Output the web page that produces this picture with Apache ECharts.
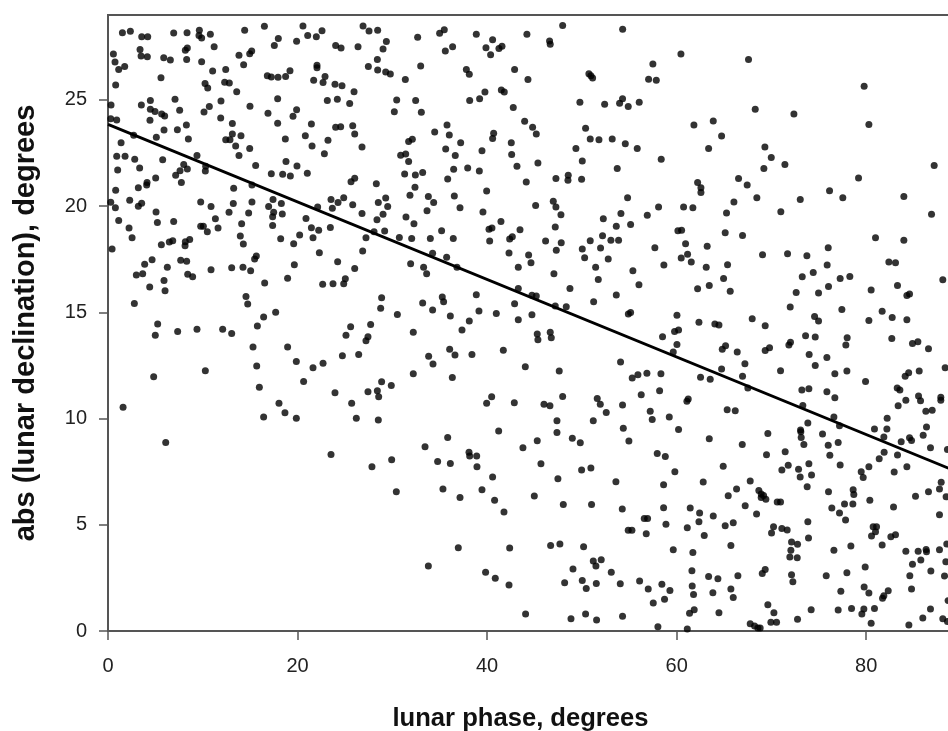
<!DOCTYPE html>
<html>
<head>
<meta charset="utf-8">
<title>Lunar phase vs declination</title>
<script src="https://cdn.jsdelivr.net/npm/echarts@6/dist/echarts.min.js"></script>
<style>
  html, body { margin: 0; padding: 0; background: #fff; overflow: hidden; }
  #chart { width: 948px; height: 731px; }
</style>
</head>
<body>
<div id="chart"></div>
<script>
const xTicks = [0, 20, 40, 60, 80];
const yTicks = [0, 5, 10, 15, 20, 25];
const xTitle = "lunar phase, degrees";
const yTitle = "abs (lunar declination), degrees";

const trendX = [0, 90];
const trendY = [23.85, 7.42];

// [lunar phase, abs declination]
const observations = [
[1.52,28.17],[2.36,28.23],[3.56,27.98],[4.19,27.98],[6.93,28.15],[8.34,28.17],[9.64,28.28],[9.6,28.04],[9.88,27.92],[10.8,28.09],
[11.2,27.5],[14.42,28.28],[16.5,28.47],[20.57,28.48],[21.07,28.04],[17.97,27.89],[17.55,27.56],[19.9,27.76],[0.57,27.16],[0.74,26.79],
[1.13,26.44],[1.76,26.58],[0.81,25.71],[3.38,27.38],[3.49,27.07],[4.15,27.04],[5.88,26.99],[6.58,26.88],[8.37,27.45],[8.16,27.34],
[8.3,26.91],[9.88,26.8],[11.04,26.36],[12.42,26.44],[13.82,27.1],[15.16,27.3],[14.95,27.18],[14.31,26.66],[5.59,26.04],[10.24,25.78],
[10.52,25.56],[12.31,25.83],[12.8,25.8],[13.58,25.39],[16.81,26.14],[17.23,26.08],[17.94,26.07],[18.74,26.1],[19.2,26.38],[17.9,25.06],
[0.32,24.76],[3.52,24.76],[4.47,24.98],[7.07,25.03],[4.47,24.56],[4.96,24.46],[5.66,24.34],[5.98,24.25],[7.56,24.51],[11.92,24.95],
[10.69,24.69],[10.13,24.43],[14.98,24.7],[16.88,24.37],[19.9,24.54],[19.52,24.23],[0.29,24.12],[0.92,24.06],[4.43,24.04],[11.89,24.15],
[17.9,23.9],[8.27,23.82],[13.12,23.89],[7.32,23.6],[5.91,23.59],[2.71,23.34],[5.1,23.24],[8.48,23.16],[13.12,23.4],[14.03,23.32],
[12.42,23.13],[12.87,23.13],[18.71,23.16],[20.82,23.32],[1.38,22.98],[13.47,22.83],[14.95,22.72],[0.92,22.35],[1.8,22.35],[2.82,22.21],
[5.77,22.18],[9.39,22.38],[13.82,22.38],[1.02,21.7],[3.34,21.8],[18.78,22.1],[19.94,21.89],[7.99,21.96],[15.58,21.91],[8.37,21.75],
[7.6,21.67],[7.14,21.45],[10.31,21.88],[10.27,21.66],[17.23,21.53],[18.43,21.5],[19.24,21.42],[21.03,21.55],[5.03,21.33],[4.12,21.12],
[4.08,21.0],[7.74,21.11],[3.2,20.87],[15.19,21.0],[13.26,20.84],[0.81,20.75],[2.29,20.28],[0.29,20.18],[0.78,19.92],[3.55,20.14],
[3.2,20.0],[9.78,20.2],[10.87,19.98],[13.22,20.12],[15.19,20.2],[17.41,20.32],[16.95,19.98],[18.29,20.12],[12.77,19.71],[14.84,19.68],
[5.07,19.73],[17.48,19.71],[18.39,19.63],
[22.58,28.26],[21.98,27.98],[26.91,28.48],[27.54,28.25],[28.45,28.28],[29.37,27.75],[29.02,27.4],[32.67,27.95],[34.99,28.14],[35.48,28.31],
[38.86,28.09],[44.2,28.09],[40.58,27.84],[39.88,27.46],[41.25,27.42],[41.57,27.53],[40.37,27.13],[36.36,27.5],[35.59,27.31],[24.02,27.56],
[24.59,27.45],[26.38,27.5],[28.42,26.91],[27.47,26.58],[28.45,26.41],[29.3,26.32],[29.79,26.22],[31.37,25.96],[22.05,26.63],[22.05,26.52],
[32.99,26.6],[37.81,26.44],[38.12,26.21],[42.9,26.43],[44.31,25.96],[21.7,25.93],[22.9,26.11],[22.69,25.82],[23.95,25.74],[24.69,25.67],
[25.96,25.39],[23.14,24.98],[24.2,25.03],[25.5,24.83],[30.46,25.0],[32.46,24.97],[30.21,24.45],[33.06,24.42],[38.16,24.97],[39.21,25.06],
[39.77,25.38],[41.5,25.47],[41.81,25.38],[42.76,24.64],[43.96,24.0],[21.46,23.87],[24.02,23.71],[24.55,23.74],[25.82,23.79],[26.03,23.4],
[35.77,23.82],[36.01,23.35],[34.47,23.49],[40.69,23.43],[40.58,23.18],[23.21,23.1],[21.53,22.83],[26.8,22.79],[22.83,22.47],[31.72,23.05],
[32.11,23.15],[37.21,22.98],[35.63,22.69],[39.46,22.61],[42.55,22.98],[42.59,22.43],[36.64,22.38],[30.88,22.4],[31.41,22.46],[31.72,22.1],
[43.15,21.88],[37.95,21.8],[39.18,21.66],[36.47,21.74],[33.2,21.58],[31.3,21.52],[32.43,21.47],[35.84,21.28],[26.03,21.31],[25.64,21.15],
[28.31,21.06],[44.13,21.14],[32.39,20.89],[39.95,20.72],[31.86,20.51],[33.8,20.46],[36.54,20.48],[23.53,20.31],[24.87,20.4],[24.27,20.17],
[25.82,20.07],[29.3,20.39],[28.52,20.17],[29.51,19.99],[34.36,20.17],[37.14,19.92],[22.12,19.96],[23.67,19.9],[33.66,19.79],[39.56,19.73],
[26.8,19.65],[29.02,19.62],
[47.97,28.51],[54.3,28.33],[46.59,27.78],[46.66,27.62],[60.45,27.16],[57.49,26.69],[50.74,26.24],[50.95,26.14],[51.13,26.03],[57.04,25.97],
[57.85,25.93],[49.79,24.89],[52.4,24.8],[54.29,25.06],[53.98,24.84],[54.89,24.69],[56.05,24.89],[44.8,23.71],[45.19,23.4],[50.39,23.67],
[61.82,23.82],[63.86,24.01],[64.74,23.3],[50.88,23.16],[51.8,23.13],[53.2,23.16],[54.58,22.94],[55.84,22.72],[49.37,22.72],[63.37,22.72],
[58.37,22.21],[50.04,22.13],[45.36,22.03],[53.73,21.77],[48.56,21.45],[48.53,21.22],[47.26,21.3],[49.97,21.27],[62.21,21.11],[62.56,20.87],
[62.56,20.64],[54.82,20.4],[45.12,20.03],[46.98,20.23],[47.26,19.96],[47.79,19.6],[58.09,19.96],[60.73,19.96],[61.71,19.93],[54.12,19.65],
[56.9,19.57],[65.26,19.68],
[67.58,26.91],[79.78,25.64],[68.29,24.56],[72.37,24.34],[80.28,23.84],[69.31,22.79],[69.98,22.29],[71.42,21.96],[69.2,21.77],[87.17,21.91],
[66.53,21.3],[67.44,21.0],[79.19,21.33],[76.13,20.73],[77.53,20.4],[68.46,20.4],[73.04,20.31],[66.04,20.2],[83.97,20.46],[70.99,19.74],
[86.89,19.62],
[1.13,19.33],[5.21,19.23],[6.93,19.28],[11.33,19.41],[14.1,19.17],[17.37,19.5],[17.37,19.09],[20.89,19.42],[2.22,18.97],[2.54,18.51],
[9.78,19.05],[10.06,19.06],[10.48,18.8],[11.61,18.97],[13.96,18.59],[14.28,18.22],[18.22,18.47],[19.59,18.23],[20.22,18.64],[0.43,17.98],
[5.63,18.18],[6.47,18.31],[6.83,18.37],[8.62,18.43],[8.16,18.32],[8.13,18.14],[4.65,17.48],[3.87,17.27],[7.67,17.46],[8.3,17.41],
[6.26,17.13],[15.65,17.65],[15.47,17.51],[19.66,17.24],[10.87,17.01],[13.05,17.1],[14.24,17.13],[15.05,16.96],[2.99,16.76],[3.66,16.82],
[8.41,16.79],[8.93,16.68],[5.91,16.5],[18.95,16.61],[16.53,16.38],[4.4,16.19],[6.02,16.02],[14.56,15.75],[14.74,15.39],[2.78,15.42],
[17.69,15.01],[16.42,14.78],[5.24,14.45],[15.76,14.36],[4.99,13.92],[7.35,14.1],[9.39,14.21],[12.1,14.21],[13.05,14.0],[15.3,13.37],
[18.95,13.37],[19.87,12.69],[15.69,12.47],[20.64,11.75],[10.27,12.25],[4.82,11.97],[15.97,11.48],[18.04,10.72],[18.67,10.28],[1.59,10.53],
[16.42,10.07],[19.87,10.02],
[28.38,19.36],[31.44,19.49],[32.28,19.17],[41.46,19.28],[21.46,18.98],[22.23,18.87],[23.46,19.0],[21.63,18.51],[27.22,18.51],[28.07,18.8],
[29.19,18.83],[30.74,18.53],[32.04,18.48],[34.01,18.48],[35.2,18.84],[36.43,18.48],[40.2,18.91],[40.51,18.97],[43.47,18.89],[40.27,18.36],
[42.38,18.45],[42.66,18.56],[22.3,17.81],[26.87,17.89],[34.25,17.78],[35.73,17.59],[42.31,17.79],[24.23,17.38],[26.03,17.07],[31.93,17.29],
[33.3,17.12],[33.62,16.82],[36.82,17.13],[43.29,17.13],[25.04,16.58],[24.87,16.35],[22.65,16.33],[23.74,16.35],[43.29,16.13],[28.87,15.69],
[28.77,15.2],[35.27,15.72],[35.41,15.5],[38.86,15.83],[33.2,15.44],[34.25,15.11],[30.53,14.9],[36.12,14.83],[39.14,15.06],[40.97,14.95],
[42.9,15.41],[38.12,14.59],[43.29,14.65],[27.71,14.43],[25.6,14.32],[25.11,13.92],[37.35,14.17],[32.21,14.06],[27.43,13.85],[27.22,13.66],
[36.05,13.27],[36.61,12.99],[38.4,13.02],[41.71,13.22],[26.45,13.02],[24.73,12.96],[33.83,12.93],[34.29,12.57],[22.69,12.61],[21.63,12.39],
[32.21,12.11],[36.33,11.94],[28.87,11.73],[29.89,11.56],[27.43,11.26],[28.42,11.31],[28.56,11.03],[23.95,11.22],[25.71,10.72],[40.48,11.03],
[39.95,10.72],[42.87,10.75],[26.2,10.01],[28.52,9.93],
[52.26,19.41],[47.19,19.02],[53.63,19.06],[55.14,19.14],[60.13,18.84],[60.52,18.87],[65.12,18.75],[46.17,18.36],[47.82,18.28],[47.3,17.93],
[50.88,18.37],[52.18,18.61],[53.06,18.4],[53.87,18.4],[50.04,17.98],[51.97,18.03],[57.7,18.04],[60.94,18.23],[63.22,18.11],[61.15,17.74],
[60.48,17.56],[61.54,17.37],[50.29,17.57],[52.78,17.51],[44.38,17.7],[44.63,17.34],[51.45,17.12],[58.65,17.23],[63.12,17.13],[65.37,17.24],
[47.05,16.82],[55.38,16.96],[64.95,16.6],[51.73,16.55],[56.02,16.3],[63.44,16.27],[62.21,16.11],[65.65,16.0],[48.74,16.13],[53.63,15.82],
[44.73,15.81],[45.19,15.77],[51.24,15.5],[47.19,15.3],[48.35,15.27],[54.9,14.92],[55.14,15.0],[44.73,14.89],[60.03,14.86],[62.35,14.53],
[64.03,14.45],[64.46,14.4],[46.66,14.07],[45.29,13.98],[46.77,13.81],[45.36,13.71],[59.78,14.1],[60.2,14.17],[58.51,13.85],[60.03,13.49],
[65.16,13.43],[64.81,13.26],[59.64,13.13],[54.08,12.66],[44.03,12.44],[47.61,12.24],[64.74,12.33],[56.86,12.14],[55.91,12.06],[55.31,11.91],
[58.34,12.11],[62.52,11.95],[63.54,11.85],[58.2,11.31],[56.26,11.12],[47.97,11.04],[51.62,10.95],[51.94,10.68],[61.22,10.92],[61.08,10.82],
[46.0,10.67],[46.63,10.61],[54.29,10.64],[52.57,10.29],[57.21,10.34],[65.33,10.42],[47.37,9.9],[51.2,9.9],[57.42,9.96],[59.22,10.07],
[54.37,9.54],[60.2,9.49],
[66.95,18.62],[80.98,18.51],[83.97,18.4],[75.99,18.04],[69.06,17.71],[71.7,17.76],[73.74,17.67],[82.39,17.37],[83.09,17.34],[75.88,17.23],
[74.41,16.88],[73.25,16.68],[77.25,16.6],[78.27,16.69],[88.08,16.54],[76.02,16.22],[83.3,16.27],[80.52,16.05],[72.61,15.94],[74.97,15.91],
[84.29,15.8],[84.57,15.86],[71.98,15.25],[77.43,15.14],[81.68,15.05],[82.74,14.76],[74.55,14.81],[74.97,14.59],[80.28,14.62],[84.29,14.65],
[67.97,14.7],[69.34,14.37],[73.6,13.9],[74.62,13.84],[77.99,13.81],[82.7,13.77],[85.45,13.62],[84.88,13.54],[77.85,13.46],[72.01,13.59],
[71.84,13.46],[86.57,13.29],[69.8,13.34],[69.34,13.21],[66.39,13.13],[73.98,13.02],[75.85,12.88],[67.2,12.58],[74.62,12.5],[88.33,12.39],
[70.96,12.25],[76.69,12.11],[77.96,12.24],[85.59,12.24],[84.48,12.16],[84.11,11.99],[66.95,11.99],[79.93,11.75],[67.51,11.44],[83.27,11.44],
[83.55,11.34],[73.21,11.34],[73.95,11.4],[75.85,11.26],[76.69,10.98],[85.52,11.06],[85.73,10.84],[84.18,10.86],[87.87,11.0],[87.87,10.86],
[83.37,10.61],[73.31,10.62],[86.29,10.35],[86.96,10.39],[66.18,10.37],[76.59,10.07],[82.21,10.01],[73.84,9.79],[77.18,9.66],[86.36,9.6],
[80.87,9.51],[82.18,9.51],[73.07,9.46],
[6.09,8.88],
[41.22,9.41],[35.84,9.11],[33.45,8.67],[43.78,8.63],[23.53,8.31],[38.09,8.42],[38.9,8.24],[38.16,8.24],[29.93,8.06],[34.78,7.98],
[36.12,7.89],[27.85,7.73],[38.93,7.73],[40.58,7.25],[35.34,6.68],[39.46,6.65],[30.42,6.56],[37.14,6.29],[40.79,6.15],[41.78,5.6],
[36.96,3.92],[42.38,3.91],[33.8,3.06],[39.84,2.76],[40.86,2.48],[42.31,2.16],[44.06,0.8],
[47.37,9.35],[45.29,8.96],[48.99,9.08],[49.83,8.86],[54.96,8.94],[63.44,9.05],[57.95,8.36],[58.8,8.22],[45.68,7.87],[49.97,7.58],
[50.95,7.67],[59.81,7.5],[64.91,7.76],[47.47,7.17],[53.59,7.03],[58.62,6.89],[62.8,7.01],[66.32,6.68],[65.44,6.37],[44.98,6.35],
[48.04,5.96],[51.02,5.95],[54.26,5.74],[58.62,5.8],[61.43,5.79],[62.42,5.55],[63.86,5.41],[62.35,5.14],[65.97,5.1],[65.12,4.96],
[56.58,5.3],[56.93,5.3],[58.87,5.02],[61.12,4.86],[54.89,4.74],[55.28,4.74],[56.79,4.58],[62.91,4.5],[65.72,4.02],[46.7,4.02],
[47.68,4.09],[50.18,3.97],[59.64,3.83],[61.71,3.69],[52.04,3.36],[51.2,3.29],[51.48,3.06],[49.06,2.92],[53.1,2.76],[61.61,2.84],
[63.37,2.57],[64.35,2.46],[66.46,2.6],[48.18,2.27],[50.04,2.38],[50.46,2.0],[51.52,2.24],[54.05,2.23],[56.09,2.35],[57.0,1.98],
[58.44,2.2],[59.29,1.91],[61.64,2.12],[61.78,1.72],[63.82,1.8],[65.72,1.98],[65.97,1.58],[58.72,1.49],[57.53,1.32],[61.85,1.0],
[61.36,0.83],[64.46,0.86],[48.85,0.58],[50.39,0.8],[51.55,0.52],[54.29,0.69],[58.02,0.2],[61.12,0.09],
[69.62,9.3],[73.1,9.38],[73.14,9.11],[73.42,8.78],[75.39,9.27],[66.92,8.78],[75.99,8.75],[77.04,8.88],[71.45,8.44],[69.48,8.3],
[76.16,8.27],[73.95,7.87],[77.25,7.81],[71.77,7.8],[71.1,7.58],[72.86,7.61],[74.23,7.34],[73.03,7.25],[79.47,7.5],[79.68,7.23],
[80.28,7.73],[81.37,8.11],[81.89,8.41],[83.3,8.28],[84.29,7.73],[82.95,7.48],[86.78,8.63],[81.86,9.13],[83.69,8.91],[84.57,9.1],
[84.78,8.97],[86.01,9.22],[88.57,8.55],[67.76,7.06],[73.77,6.79],[87.91,7.0],[87.73,6.68],[68.67,6.62],[68.92,6.45],[69.17,6.38],
[68.92,6.29],[69.41,6.2],[70.61,6.07],[70.96,6.07],[76.02,6.56],[78.62,6.65],[78.69,6.43],[86.57,6.56],[85.2,6.34],[88.43,6.32],
[80.38,6.16],[67.23,5.9],[77.71,5.98],[78.59,5.98],[76.37,5.79],[82.88,5.84],[77.18,5.55],[68.43,5.51],[87.73,5.47],[77.82,5.22],
[73.84,5.14],[70.22,4.91],[70.01,4.61],[71.1,4.82],[71.66,4.75],[80.73,4.91],[81.09,4.91],[80.98,4.67],[80.56,4.47],[82.6,4.44],
[83.09,4.53],[73.91,4.38],[72.12,4.19],[72.75,4.08],[88.5,4.09],[78.38,4.0],[81.68,4.05],[72.05,3.8],[76.59,3.8],[84.18,3.75],
[85.48,3.75],[86.32,3.84],[86.36,3.73],[87.73,3.83],[71.94,3.48],[72.72,3.45],[85.76,3.34],[88.4,3.26],[84.88,3.14],[79.89,3.01],
[69.34,2.9],[69.03,2.71],[77.96,2.74],[86.82,2.82],[72.12,2.65],[75.78,2.6],[84.6,2.6],[88.26,2.59],[72.26,2.32],[79.78,2.07],
[84.78,1.98],[77.32,1.87],[80.28,1.79],[82.32,1.9],[81.86,1.66],[81.72,1.54],[88.64,1.43],[69.62,1.24],[70.26,0.86],[74.19,1.0],
[77.04,0.99],[78.45,1.06],[79.75,1.03],[79.54,0.8],[80.87,1.06],[86.78,1.03],[85.97,0.61],[88.08,0.58],[88.57,0.45],[72.75,0.55],
[69.94,0.41],[70.54,0.41],[80.52,0.36],[84.5,0.28],[67.76,0.34],[68.22,0.23],[68.57,0.14],[68.81,0.14]
];

const AXIS_COLOR = "#555";
const LABEL_COLOR = "#222";
const FONT = "'Liberation Sans', Arial, sans-serif";

const chart = echarts.init(document.getElementById("chart"), null, { renderer: "canvas" });

chart.setOption({
  animation: false,
  backgroundColor: "#fff",
  // The plot runs a little past the window on the right, as in the reference
  grid: {
    show: true,
    left: 108,
    top: 15,
    height: 616,
    width: 853,
    outerBoundsMode: "none",
    borderColor: AXIS_COLOR,
    borderWidth: 2,
    backgroundColor: "#fff",
  },
  xAxis: {
    type: "value",
    min: 0,
    max: 90,
    name: xTitle,
    nameLocation: "middle",
    nameGap: 75,
    nameTextStyle: {
      fontFamily: FONT,
      fontWeight: "bold",
      fontSize: 25.6,
      color: "#111",
      padding: [0, 28, 0, 0],
    },
    splitLine: { show: false },
    axisLine: { onZero: false, lineStyle: { color: AXIS_COLOR, width: 2 } },
    axisTick: { length: 9, customValues: xTicks, lineStyle: { color: AXIS_COLOR, width: 1.5 } },
    axisLabel: { customValues: xTicks, margin: 25, fontFamily: FONT, fontSize: 20, color: LABEL_COLOR },
  },
  yAxis: {
    type: "value",
    min: 0,
    max: 29,
    name: yTitle,
    nameLocation: "middle",
    nameGap: 68,
    nameTextStyle: {
      fontFamily: FONT,
      fontWeight: "bold",
      fontSize: 29,
      color: "#111",
    },
    splitLine: { show: false },
    axisLine: { onZero: false, lineStyle: { color: AXIS_COLOR, width: 2 } },
    axisTick: { length: 9, customValues: yTicks, lineStyle: { color: AXIS_COLOR, width: 1.5 } },
    axisLabel: { customValues: yTicks, margin: 21, padding: [5, 0, 0, 0], fontFamily: FONT, fontSize: 20, color: LABEL_COLOR },
  },
  series: [
    {
      type: "scatter",
      data: observations,
      symbol: "circle",
      symbolSize: 7,
      itemStyle: { color: "#000" },
      silent: true,
      large: false,
      clip: true,
    },
    {
      type: "line",
      data: trendX.map((x, i) => [x, trendY[i]]),
      symbol: "none",
      lineStyle: { color: "#000", width: 2.8 },
      silent: true,
      z: 3,
    },
  ],
});
</script>
</body>
</html>
